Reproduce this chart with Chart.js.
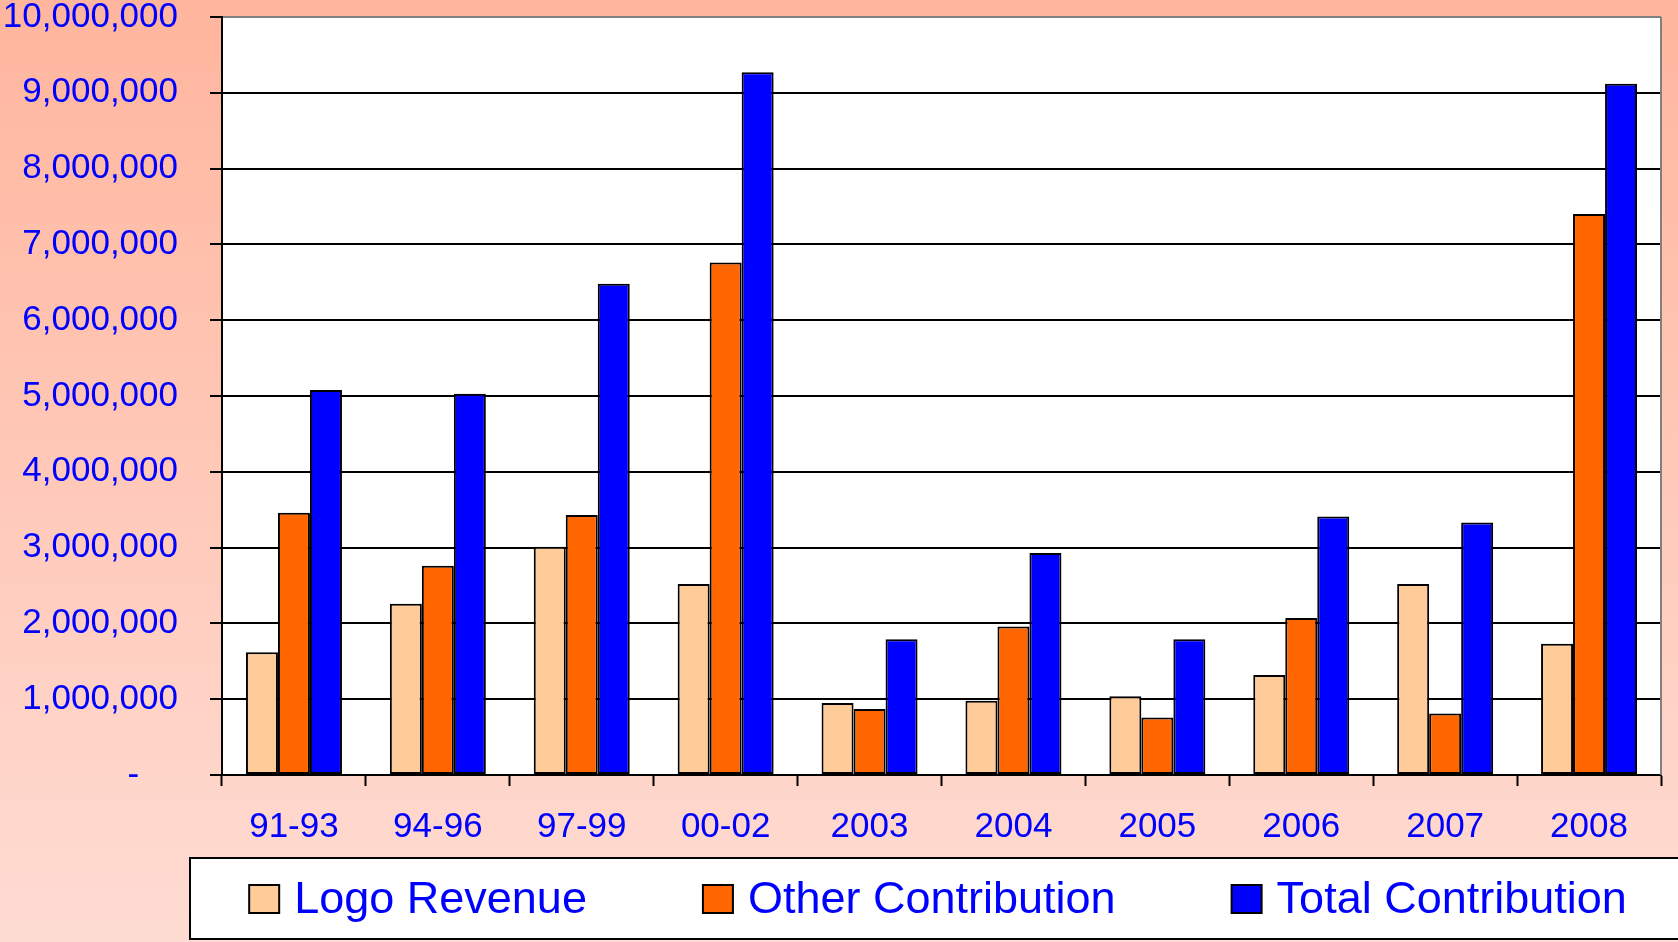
<!DOCTYPE html>
<html>
<head>
<meta charset="utf-8">
<script src="https://cdn.jsdelivr.net/npm/chart.js@4.4.0/dist/chart.umd.min.js"></script>
<style>
  html, body { margin: 0; padding: 0; overflow: hidden; }
  #wrap { width: 1678px; height: 942px; }
</style>
</head>
<body>
<div id="wrap"><canvas id="chart"></canvas></div>
<script>
const categories = ["91-93", "94-96", "97-99", "00-02", "2003", "2004", "2005", "2006", "2007", "2008"];
const logoRevenue = [1620000, 2260000, 3010000, 2520000, 950000, 980000, 1040000, 1320000, 2520000, 1730000];
const otherContribution = [3460000, 2760000, 3430000, 6760000, 870000, 1960000, 760000, 2070000, 810000, 7400000];
const totalContribution = [5080000, 5030000, 6480000, 9270000, 1790000, 2930000, 1790000, 3410000, 3330000, 9120000];
const yMax = 10000000;
const yStep = 1000000;

Chart.defaults.font.family = "'Liberation Sans', Arial, sans-serif";

// pink backdrop, white plot area, grey right edge and the boxed legend
const frame = {
  id: 'frame',
  beforeDraw(chart) {
    const { ctx, width, height, chartArea: a } = chart;
    ctx.save();
    const g = ctx.createLinearGradient(0, 0, 0, height);
    g.addColorStop(0, '#FFB59D');
    g.addColorStop(1, '#FFDCD3');
    ctx.fillStyle = g;
    ctx.fillRect(0, 0, width, height);
    ctx.fillStyle = '#fff';
    ctx.fillRect(a.left, a.top, a.right - a.left, a.bottom - a.top);
    ctx.restore();
  },
  afterDraw(chart) {
    const { ctx, width, chartArea: a } = chart;
    ctx.save();
    ctx.strokeStyle = '#808080';
    ctx.lineWidth = 2;
    ctx.beginPath();
    ctx.moveTo(a.right, a.top);
    ctx.lineTo(a.right, a.bottom);
    ctx.stroke();

    // legend box
    const top = 858, h = 81;
    ctx.fillStyle = '#fff';
    ctx.fillRect(190, top, width, h);
    ctx.strokeStyle = '#000';
    ctx.lineWidth = 2;
    ctx.strokeRect(190, top, width, h);

    ctx.font = "45px 'Liberation Sans', Arial, sans-serif";
    ctx.textBaseline = 'alphabetic';
    const gap = 116, sw = 30, sh = 28, textOff = 45;
    const sets = chart.data.datasets;
    const widths = sets.map(d => textOff + ctx.measureText(d.label).width);
    const total = widths.reduce((s, w) => s + w, 0) + gap * (sets.length - 1);
    let x = 938 - total / 2;
    sets.forEach((d, i) => {
      ctx.fillStyle = d.backgroundColor;
      ctx.fillRect(x, 885, sw, sh);
      ctx.strokeStyle = '#000';
      ctx.lineWidth = 2;
      ctx.strokeRect(x, 885, sw, sh);
      ctx.fillStyle = '#0000FF';
      ctx.fillText(d.label, x + textOff, 913);
      x += widths[i] + gap;
    });
    ctx.restore();
  }
};

new Chart(document.getElementById('chart'), {
  type: 'bar',
  data: {
    labels: categories,
    datasets: [
      { label: 'Logo Revenue', data: logoRevenue, backgroundColor: '#FFCC99' },
      { label: 'Other Contribution', data: otherContribution, backgroundColor: '#FF6600' },
      { label: 'Total Contribution', data: totalContribution, backgroundColor: '#0000FF' }
    ]
  },
  options: {
    responsive: true,
    maintainAspectRatio: false,
    animation: false,
    layout: { padding: { top: 17, right: 17, bottom: 92, left: 0 } },
    datasets: {
      bar: {
        borderColor: '#000',
        borderWidth: 2,
        borderSkipped: false,
        categoryPercentage: 0.667,
        barPercentage: 1
      }
    },
    plugins: {
      legend: { display: false },
      tooltip: { enabled: false }
    },
    scales: {
      x: {
        offset: true,
        grid: { drawOnChartArea: false, drawTicks: true, tickLength: 11, tickColor: '#000', tickWidth: 2, offset: true },
        border: { color: '#000', width: 2 },
        ticks: { color: '#0000FF', font: { size: 35 }, padding: 20, maxRotation: 0 },
        afterFit(s) { s.height = 75; s.paddingLeft = 0; s.paddingRight = 0; }
      },
      y: {
        min: 0,
        max: yMax,
        grid: {
          color: c => (c.tick && c.tick.value === yMax ? '#808080' : '#000'),
          lineWidth: 2,
          tickLength: 12,
          tickColor: '#000'
        },
        border: { color: '#000', width: 2 },
        ticks: {
          stepSize: yStep,
          color: '#0000FF',
          font: { size: 35 },
          padding: 32,
          callback: v => (v === 0 ? '-    ' : v.toLocaleString('en-US'))
        },
        afterFit(s) { s.width = 222; s.paddingTop = 0; s.paddingBottom = 0; }
      }
    }
  },
  plugins: [frame]
});
</script>
</body>
</html>
